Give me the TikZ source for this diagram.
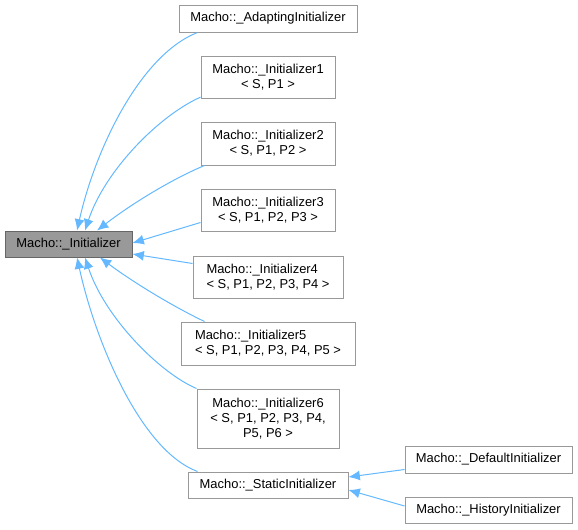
\documentclass[tikz,border=0pt]{standalone}
\usepackage{fontspec}
\setmainfont{Liberation Sans}
\usepackage{tikz}
\usetikzlibrary{arrows.meta}
\definecolor{edgeblue}{HTML}{63B8FF}
\definecolor{boxgray}{HTML}{999999}
\definecolor{basegray}{HTML}{666666}

\begin{document}
\begin{tikzpicture}[x=0.75pt,y=0.75pt,yscale=-1,xscale=1,
  cls/.style={draw=boxgray,fill=white,line width=0.75pt,inner sep=0pt,font=\fontsize{9.7}{11.2}\selectfont,align=center},
  basecls/.style={cls,draw=basegray,fill=boxgray},
  edge/.style={draw=edgeblue,line width=0.75pt,-{Latex[length=8.5pt,width=7.5pt]}}]
\useasboundingbox (0,0) rectangle (578,529);

% Text Node
\node [basecls,minimum width=95.25pt,minimum height=19.5pt] (base) at (68.5,244) {Macho::\_Initializer};
% Text Node
\node [cls,minimum width=133.5pt,minimum height=20.25pt] (adapt) at (268,18.5) {Macho::\_AdaptingInitializer};
% Text Node
\node [cls,minimum width=100.5pt,minimum height=31.5pt] (init1) at (268,77) {Macho::\_Initializer1\\{}< S, P1 >};
% Text Node
\node [cls,minimum width=100.5pt,minimum height=32.25pt] (init2) at (268,143.5) {Macho::\_Initializer2\\{}< S, P1, P2 >};
% Text Node
\node [cls,minimum width=100.5pt,minimum height=31.5pt] (init3) at (268,210) {Macho::\_Initializer3\\{}< S, P1, P2, P3 >};
% Text Node
\node [cls,minimum width=112.5pt,minimum height=31.5pt,align=left] (init4) at (268,277) {Macho::\_Initializer4\\{}< S, P1, P2, P3, P4 >};
% Text Node
\node [cls,minimum width=130.5pt,minimum height=32.25pt,align=left] (init5) at (268,343.5) {Macho::\_Initializer5\\{}< S, P1, P2, P3, P4, P5 >};
% Text Node
\node [cls,minimum width=106.5pt,minimum height=44.25pt] (init6) at (268,418.5) {Macho::\_Initializer6\\{}< S, P1, P2, P3, P4,\\P5, P6 >};
% Text Node
\node [cls,minimum width=120pt,minimum height=19.5pt] (static) at (268,485) {Macho::\_StaticInitializer};
% Text Node
\node [cls,minimum width=125.25pt,minimum height=20.25pt] (default) at (488.5,459.5) {Macho::\_DefaultInitializer};
% Text Node
\node [cls,minimum width=125.25pt,minimum height=19.5pt] (history) at (488.5,510) {Macho::\_HistoryInitializer};

% Connection
\draw [edge] ([xshift=14.25pt]adapt.south west) .. controls (140,55) and (95,150) .. ([xshift=6.4pt]base.north);
% Connection
\draw [edge] ([yshift=-1pt]init1.south west) .. controls (160,115) and (105,170) .. ([xshift=12.4pt]base.north);
% Connection
\draw [edge] ([xshift=3pt]init2.south west) .. controls (170,180) and (130,205) .. ([xshift=21.4pt]base.north);
% Connection
\draw [edge] ([yshift=-6.75pt]init3.south west) -- ([yshift=-0.75pt]base.east);
% Connection
\draw [edge] ([yshift=6pt]init4.north west) -- ([yshift=7.5pt]base.east);
% Connection
\draw [edge] ([xshift=18pt]init5.north west) .. controls (170,305) and (130,280) .. ([xshift=23.6pt]base.south);
% Connection
\draw [edge] (init6.north west) .. controls (160,373) and (105,318) .. ([xshift=12.4pt]base.south);
% Connection
\draw [edge] ([xshift=7.5pt]static.north west) .. controls (140,450) and (95,340) .. ([xshift=6.4pt]base.south);
% Connection
\draw [edge] ([yshift=-3pt]default.south west) -- ([yshift=-6pt]static.east);
% Connection
\draw [edge] ([yshift=-3pt]history.west) -- ([yshift=3.75pt]static.east);

\end{tikzpicture}
\end{document}
